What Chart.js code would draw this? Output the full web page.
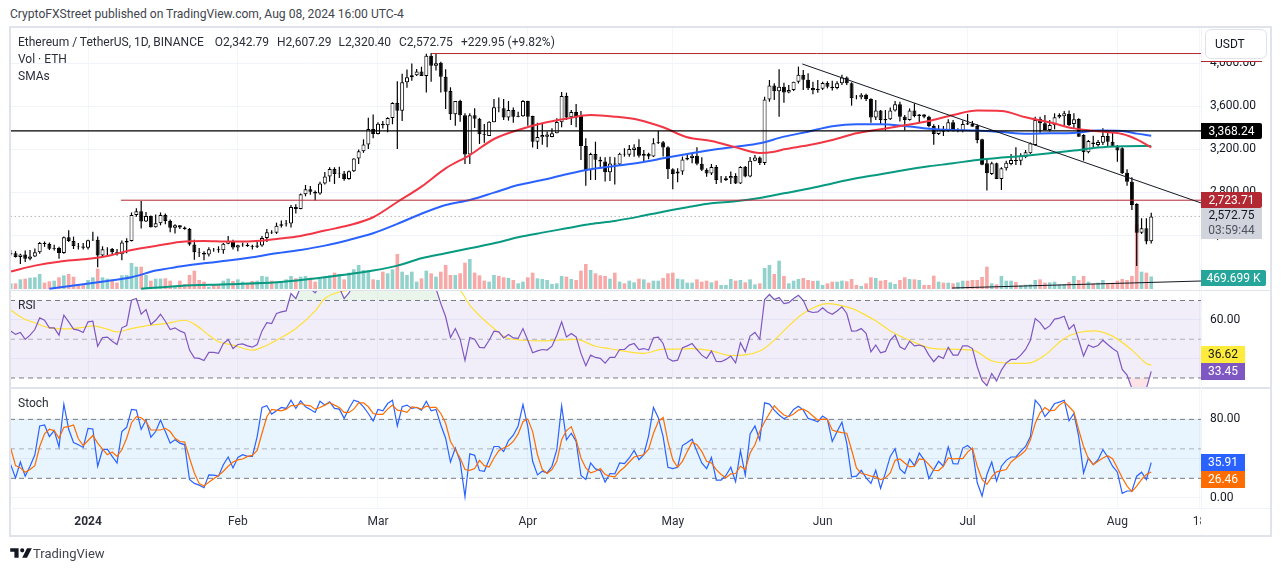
<!DOCTYPE html>
<html>
<head>
<meta charset="utf-8">
<title>ETHUSDT</title>
<script src="https://cdn.jsdelivr.net/npm/chart.js@4/dist/chart.umd.min.js"></script>
<style>
html,body{margin:0;padding:0;background:#fff;overflow:hidden;}
body{width:1281px;height:571px;position:relative;font-family:Roboto,sans-serif;color:#131722;}
canvas{position:absolute;left:10px;}
.abs{position:absolute;white-space:nowrap;}
.line{position:absolute;background:#e0e3eb;}
.tag{position:absolute;left:1201px;width:44px;height:17px;line-height:17px;text-align:center;font-size:12px;}
.leg{position:absolute;left:18px;font-size:12px;white-space:nowrap;color:#2a2e39;}
</style>
</head>
<body>
<canvas id="chartMain" width="1259" height="262" style="top:28px;width:1259px;height:262px"></canvas>
<canvas id="chartRsi" width="1259" height="96" style="top:291px;width:1259px;height:96px"></canvas>
<canvas id="chartStoch" width="1259" height="147" style="top:389px;width:1259px;height:147px"></canvas>

<div class="abs" style="left:10px;top:7px;font-size:12.1px;color:#42454e;">CryptoFXStreet published on TradingView.com, Aug 08, 2024 16:00 UTC-4</div>

<div class="line" style="left:9px;top:26px;width:1263px;height:2px;"></div>
<div class="line" style="left:9px;top:535px;width:1263px;height:2px;"></div>
<div class="line" style="left:9px;top:26px;width:2px;height:511px;"></div>
<div class="line" style="left:1270px;top:26px;width:2px;height:511px;"></div>
<div class="line" style="left:10px;top:290px;width:1261px;height:1px;"></div>
<div class="line" style="left:10px;top:387px;width:1261px;height:2px;"></div>
<div class="line" style="left:1201px;top:28px;width:1px;height:507px;background:#f0f3fa;"></div>
<div class="line" style="left:10px;top:508px;width:1260px;height:1px;background:#f0f3fa;"></div>

<div class="leg" style="top:35px;">Ethereum / TetherUS, 1D, BINANCE<span style="margin-left:11px">O2,342.79</span><span style="margin-left:8px">H2,607.29</span><span style="margin-left:7px">L2,320.40</span><span style="margin-left:8px">C2,572.75</span><span style="margin-left:8px">+229.95 (+9.82%)</span></div>
<div class="leg" style="top:52px;">Vol · ETH</div>
<div class="leg" style="top:69px;">SMAs</div>
<div class="leg" style="top:298px;">RSI</div>
<div class="leg" style="top:396px;">Stoch</div>

<!-- right axis overlays -->
<div class="abs" style="left:1202px;top:28px;width:67px;height:33px;background:#fff;"></div>
<div class="abs" style="left:1201px;top:61px;width:61px;height:1px;background:#b22833;"></div>
<div class="abs" style="left:1205px;top:29px;width:60px;height:28px;border:1px solid #e0e3eb;border-radius:6px;background:#fff;font-size:12px;line-height:28px;text-indent:9px;">USDT</div>
<div class="abs" style="left:1201px;top:123px;width:61px;height:16px;line-height:16px;background:#000;color:#fff;font-size:12px;text-align:center;border-radius:0 2px 2px 0;">3,368.24</div>
<div class="abs" style="left:1201px;top:192px;width:61px;height:16px;line-height:16px;background:#b22833;color:#fff;font-size:12px;text-align:center;border-radius:0 2px 2px 0;">2,723.71</div>
<div class="abs" style="left:1201px;top:208px;width:61px;height:31px;background:#d1d4dc;font-size:12px;text-align:center;line-height:15px;">2,572.75<br><span style="color:#50535e;">03:59:44</span></div>
<div class="abs" style="left:1201px;top:270px;width:65px;height:16px;line-height:16px;background:#26a69a;color:#fff;font-size:12px;text-align:center;border-radius:0 2px 2px 0;">469.699 K</div>
<div class="tag" style="top:346px;background:#ffeb3b;">36.62</div>
<div class="tag" style="top:363px;background:#7e57c2;color:#fff;">33.45</div>
<div class="tag" style="top:454px;background:#2962ff;color:#fff;">35.91</div>
<div class="tag" style="top:471px;background:#ff6d00;color:#fff;">26.46</div>
<div class="abs" style="left:1201px;top:510px;width:68px;height:24px;background:#fff;"></div>

<!-- footer logo -->
<svg class="abs" style="left:10px;top:547px;" width="22" height="12" viewBox="0 0 36 20"><path fill="#131722" d="M14 18H7V8H0V2h14v16zM28 18h-8l8-16h8l-8 16zM20 9a3.5 3.5 0 1 0 0-7 3.5 3.5 0 0 0 0 7z"/></svg>
<div class="abs" style="left:33px;top:546px;font-size:13px;color:#42454e;">TradingView</div>

<script>
// day numbers: 0 = 16 Dec 2023, 236 = 8 Aug 2024
let opens = [
2220,2230,2195,2218,2178,2200,2240,2326,2316,2272,
2280,2232,2378,2345,2298,2292,2281,2352,2355,2210,
2268,2269,2240,2222,2330,2344,2585,2620,2525,2577,
2472,2510,2587,2530,2468,2490,2470,2455,2312,2240,
2235,2218,2268,2267,2258,2318,2345,2283,2305,2310,
2298,2290,2302,2373,2425,2420,2487,2500,2507,2660,
2643,2778,2825,2803,2785,2880,2945,3013,2967,2972,
2922,2992,3112,3178,3243,3385,3340,3435,3422,3488,
3628,3555,3820,3868,3885,3920,3880,4068,3975,4003,
3873,3740,3523,3647,3513,3150,3513,3482,3337,3321,
3448,3590,3578,3492,3563,3501,3505,3647,3507,3268,
3309,3315,3312,3346,3449,3693,3495,3544,3507,3228,
3003,3154,3100,3083,2984,3065,3055,3156,3147,3190,
3219,3138,3155,3130,3255,3263,3216,3011,2973,2990,
3103,3117,3137,3062,3007,2973,3033,2911,2912,2928,
2950,2880,3035,2945,3090,3122,3070,3660,3790,3737,
3780,3725,3748,3825,3890,3844,3767,3747,3760,3814,
3780,3767,3812,3865,3812,3687,3681,3705,3665,3492,
3557,3480,3476,3557,3616,3500,3470,3557,3507,3520,
3500,3414,3340,3383,3365,3450,3375,3370,3439,3432,
3415,3290,3067,2968,3067,2921,3020,3060,3098,3090,
3123,3160,3237,3479,3439,3377,3420,3495,3505,3526,
3433,3479,3330,3169,3261,3237,3259,3321,3268,3228,
3207,2980,2896,2689,2420,2462,2342.79];

let closes = [
2230,2195,2218,2178,2200,2240,2326,2316,2272,2280,
2232,2378,2345,2298,2292,2281,2352,2355,2210,2268,
2269,2240,2222,2330,2344,2585,2620,2525,2577,2472,
2510,2587,2530,2468,2490,2470,2455,2312,2240,2235,
2218,2268,2267,2258,2318,2345,2283,2305,2310,2298,
2290,2302,2373,2425,2420,2487,2500,2507,2660,2643,
2778,2825,2803,2785,2880,2945,3013,2967,2972,2922,
2992,3112,3178,3243,3385,3340,3435,3422,3488,3628,
3555,3820,3868,3885,3920,3880,4067,3975,3997,3873,
3733,3523,3647,3513,3150,3513,3482,3337,3330,3454,
3588,3586,3492,3563,3501,3510,3647,3501,3268,3312,
3331,3334,3346,3451,3693,3492,3544,3492,3228,3003,
3154,3100,3083,2984,3065,3055,3156,3148,3200,3215,
3138,3155,3130,3253,3263,3213,3011,2968,2990,3103,
3117,3137,3062,3007,2973,3033,2911,2912,2928,2950,
2880,3033,2945,3090,3122,3070,3660,3790,3737,3780,
3725,3748,3825,3890,3844,3765,3747,3760,3814,3780,
3767,3812,3865,3812,3672,3681,3705,3665,3492,3557,
3470,3467,3557,3616,3500,3470,3557,3507,3520,3500,
3414,3340,3383,3360,3450,3365,3378,3433,3427,3408,
3284,3053,2974,3067,2921,3020,3073,3098,3088,3138,
3170,3253,3470,3439,3377,3423,3495,3517,3532,3423,
3476,3315,3169,3275,3247,3265,3321,3268,3222,3185,
2974,2896,2680,2420,2462,2339,2572.75];

let highs = [
2260,2250,2225,2255,2260,2275,2335,2340,2330,2310,
2290,2385,2445,2385,2325,2325,2355,2430,2385,2295,
2285,2280,2270,2350,2370,2610,2650,2717,2615,2582,
2590,2610,2600,2545,2500,2490,2480,2465,2355,2280,
2250,2285,2280,2295,2325,2390,2355,2310,2330,2325,
2310,2335,2390,2455,2445,2515,2535,2540,2680,2685,
2785,2865,2855,2815,2895,2985,3030,3030,3035,2995,
3000,3115,3195,3290,3490,3520,3450,3460,3495,3635,
3830,3900,3940,3995,3945,3965,4085,4094,4090,4012,
3941,3774,3647,3658,3532,3532,3578,3490,3433,3458,
3665,3678,3665,3647,3585,3547,3656,3650,3510,3445,
3439,3362,3392,3485,3730,3724,3563,3619,3553,3300,
3166,3268,3129,3123,3129,3123,3166,3207,3238,3244,
3290,3191,3166,3300,3368,3275,3225,3020,3020,3130,
3160,3160,3216,3123,3020,3061,3052,2949,2949,2990,
2974,3040,3042,3125,3145,3130,3687,3842,3811,3941,
3817,3795,3826,3966,3935,3904,3826,3842,3826,3830,
3835,3830,3890,3875,3820,3702,3718,3715,3672,3656,
3563,3563,3585,3647,3640,3516,3578,3625,3526,3526,
3510,3430,3423,3414,3476,3470,3392,3464,3526,3461,
3430,3296,3104,3082,3073,3030,3090,3154,3216,3160,
3190,3260,3500,3501,3516,3470,3532,3532,3554,3557,
3532,3485,3337,3284,3324,3284,3392,3352,3355,3237,
3216,3011,2937,2695,2556,2556,2607.29];

let lows = [
2210,2190,2130,2150,2165,2195,2225,2290,2260,2255,
2180,2225,2335,2270,2265,2265,2265,2345,2100,2200,
2210,2215,2210,2165,2230,2340,2570,2460,2520,2470,
2470,2490,2500,2425,2415,2455,2450,2300,2170,2195,
2165,2200,2245,2235,2225,2315,2265,2250,2290,2290,
2265,2280,2290,2335,2410,2410,2470,2480,2470,2600,
2640,2760,2775,2720,2775,2870,2895,2875,2930,2905,
2915,2985,3060,3165,3200,3300,3335,3390,3355,3430,
3200,3460,3770,3835,3880,3885,3725,3826,3930,3725,
3572,3470,3417,3454,3060,3061,3396,3247,3259,3320,
3448,3541,3470,3464,3445,3495,3500,3417,3213,3200,
3240,3216,3310,3346,3402,3470,3423,3402,3098,2859,
2912,2912,3020,2897,2903,2870,3048,3129,3129,3129,
3120,3082,3104,3125,3247,3130,2921,2825,2890,2960,
3095,3067,3048,2995,2943,2958,2875,2887,2903,2875,
2875,2875,2937,2937,3085,3052,3052,3640,3656,3501,
3631,3718,3740,3810,3750,3750,3709,3724,3749,3764,
3745,3755,3795,3795,3603,3662,3662,3647,3445,3470,
3430,3371,3470,3550,3455,3371,3464,3495,3445,3485,
3402,3240,3330,3321,3360,3362,3355,3355,3423,3408,
3253,3050,2813,2958,2920,2819,3000,3050,3052,3050,
3115,3155,3230,3352,3377,3362,3383,3485,3417,3414,
3392,3315,3092,3160,3200,3222,3238,3222,3222,3082,
2968,2859,2633,2112,2410,2313,2320.40];

// volume in thousands of ETH
let volumes = [
212,212,362,388,425,438,562,238,288,312,
438,512,562,462,188,188,338,438,762,438,
388,338,238,512,525,975,838,838,525,312,
388,388,400,312,112,312,188,525,688,338,
275,88,150,188,312,388,300,362,275,212,
300,312,488,462,312,238,275,362,488,400,
462,488,425,275,388,462,512,612,562,362,
612,738,900,712,712,362,338,650,588,738,
1312,650,525,650,275,400,688,588,462,650,
900,525,525,588,988,1125,612,512,312,275,
525,488,438,412,338,212,275,438,612,400,
375,338,188,212,488,462,375,338,688,938,
712,588,512,488,388,612,275,212,312,250,
388,362,238,312,312,412,588,612,388,362,
238,238,362,275,312,250,312,150,150,375,
312,338,250,362,175,212,788,900,562,1062,
488,212,312,375,412,338,300,312,150,212,
275,275,312,288,375,150,112,212,438,412,
312,338,250,188,338,438,375,362,338,150,
150,500,275,238,238,212,250,312,312,338,
338,450,838,212,175,488,312,312,262,138,
162,175,338,362,238,250,275,175,188,262,
488,338,488,275,212,238,338,212,238,312,
375,338,488,2425,650,612,469.7];

let sma50Days = [0,5,10,15,20,25,30,35,40,45,50,55,60,65,70,75,80,85,90,95,100,105,110,115,120,125,130,135,140,145,150,155,158,160,165,170,175,180,185,190,195,200,205,210,215,220,225,230,233,236];
let sma50 = [2060,2115,2152,2174,2205,2261,2298,2335,2345,2339,2342,2363,2391,2441,2490,2565,2707,2850,3020,3144,3293,3377,3439,3482,3516,3501,3470,3402,3309,3275,3216,3163,3175,3197,3234,3284,3346,3383,3420,3461,3516,3557,3554,3495,3448,3392,3365,3340,3290,3216];

let sma100Days = [8,15,20,25,30,35,40,45,50,55,60,65,70,75,80,85,90,95,100,105,110,115,120,125,130,135,140,145,150,155,160,165,170,175,180,185,190,195,200,205,210,215,220,225,230,233,236];
let sma100 = [1901,1942,1973,2007,2069,2106,2137,2162,2193,2230,2261,2301,2354,2416,2503,2598,2679,2726,2794,2865,2912,2965,3011,3042,3073,3113,3154,3191,3222,3253,3315,3361,3411,3430,3430,3414,3389,3377,3371,3358,3343,3346,3349,3371,3368,3343,3324];

let sma200Days = [27,35,45,55,65,75,80,85,90,95,100,105,110,115,120,125,130,135,140,145,150,155,160,165,170,175,180,185,190,195,200,205,210,215,220,225,230,236];
let sma200 = [1901,1926,1942,1960,2007,2069,2115,2183,2230,2276,2323,2379,2422,2462,2503,2531,2571,2617,2658,2695,2714,2745,2788,2830,2880,2927,2965,3005,3039,3067,3098,3120,3138,3160,3185,3213,3225,3228];

let rsi = [
54.3,52.5,53.5,49.9,52.1,55.0,61.0,59.8,55.9,55.9,
52.1,62.4,59.0,55.2,54.7,53.5,59.0,59.3,46.4,50.9,
51.1,49.0,47.3,55.9,57.1,70.1,71.0,62.9,65.3,57.6,
59.8,62.9,59.3,55.0,55.9,54.3,53.3,44.4,40.4,40.1,
39.0,43.2,43.2,42.7,47.8,49.9,45.2,47.3,47.6,46.6,
45.9,47.3,54.3,58.5,58.1,63.3,64.1,64.6,73.6,71.0,
77.0,78.7,76.2,73.9,77.9,79.6,80.5,77.4,76.7,71.0,
73.9,78.7,80.5,81.3,83.0,81.3,82.2,81.8,82.5,83.9,
80.5,83.9,83.9,84.7,84.7,85.3,83.5,80.5,76.2,68.4,
61.6,50.9,55.5,50.0,39.0,50.9,50.0,45.8,45.6,49.5,
54.2,53.8,50.7,52.5,50.7,50.4,55.5,49.5,43.0,44.0,
44.7,44.4,46.4,52.1,59.0,51.2,53.0,51.2,42.7,36.3,
41.8,40.6,40.1,37.7,40.6,40.6,44.7,44.7,47.0,47.8,
44.7,45.2,44.4,50.7,51.1,47.8,40.1,38.7,39.2,45.6,
46.6,47.8,44.7,41.8,40.1,43.9,38.5,38.4,39.6,41.3,
37.8,48.2,43.5,51.6,53.5,50.0,70.5,73.1,70.5,71.5,
68.4,68.9,71.0,72.7,70.1,64.5,63.8,64.1,66.2,64.1,
62.9,64.6,66.7,63.3,54.2,54.3,55.5,53.0,43.5,47.0,
43.0,43.7,49.5,52.1,46.1,44.7,49.0,46.6,47.0,46.1,
41.8,38.4,41.3,40.1,45.8,41.8,41.8,46.6,46.6,45.2,
35.8,28.6,26.0,32.3,28.4,34.1,37.8,39.6,39.6,41.8,
44.7,49.5,60.7,58.6,55.2,56.9,60.4,60.9,61.9,55.2,
57.6,49.5,41.3,47.0,45.8,46.8,49.5,47.3,45.2,43.5,
34.4,31.5,24.6,19.5,20.3,24.6,33.45];

let rsiMaDays = [0,3,5,8,12,15,17,20,22,25,29,32,36,38,41,43,46,50,52,55,59,63,65,68,70,75,80,86,90,93,95,100,103,110,117,121,124,131,135,138,141,145,149,155,164,169,174,176,179,182,186,191,199,203,208,211,214,218,221,224,228,232,235,236];
let rsiMa = [65.0,60.2,58.5,55.9,55.4,56.1,56.9,55.2,53.8,55.5,57.3,58.1,59.8,57.8,52.1,48.7,47.0,44.4,45.8,49.5,55.5,64.6,71.0,74.4,75.3,79.6,82.5,82.2,78.7,75.3,67.6,55.5,50.4,49.2,49.9,46.4,45.1,42.7,44.9,44.9,45.2,44.0,41.6,43.9,63.3,68.4,65.9,63.6,59.5,54.3,49.5,45.2,44.4,38.9,37.5,37.8,41.8,50.4,53.5,54.3,51.6,44.4,37.5,36.62];

let stochK = [
33.9,20.5,36.6,22.2,32.3,44.0,73.3,74.3,62.5,68.6,
51.8,95.5,69.9,56.5,54.1,51.4,70.9,70.2,32.3,49.1,
49.7,42.3,35.6,67.6,71.9,90.1,89.4,69.9,79.3,61.8,
67.6,79.3,67.6,55.8,59.2,55.8,54.1,18.8,14.8,13.1,
10.4,23.5,23.2,22.2,33.9,41.7,30.6,41.3,44.0,42.3,
42.3,62.5,92.1,93.8,85.4,88.7,92.1,91.1,99.5,91.1,
98.8,92.8,90.1,87.1,98.5,94.5,97.8,91.1,90.4,81.0,
91.1,99.5,97.8,92.8,86.0,78.3,90.1,88.7,96.1,99.5,
73.3,92.8,94.5,91.1,92.1,89.4,98.5,88.7,90.1,74.3,
60.8,36.6,50.8,37.3,1.3,45.0,43.4,27.9,27.2,39.0,
52.4,52.4,47.4,58.5,63.9,73.3,95.1,72.6,37.3,23.5,
27.2,25.5,32.3,49.1,93.8,59.2,65.9,57.5,22.9,18.8,
35.6,29.6,27.9,16.1,24.9,24.5,35.6,35.0,40.7,48.4,
39.0,44.0,63.2,92.1,81.7,62.5,31.3,29.9,31.3,53.4,
56.5,59.8,47.4,35.6,29.9,41.3,18.1,18.1,22.9,31.3,
16.5,48.1,23.2,65.2,73.3,59.2,96.8,95.5,89.4,84.4,
80.7,83.4,90.1,93.4,89.4,81.0,79.3,77.6,83.4,80.0,
57.5,67.6,77.0,55.8,21.5,22.2,28.2,20.5,14.8,28.2,
9.7,25.5,42.3,50.1,29.6,24.9,39.7,32.9,45.7,39.0,
19.8,28.9,37.3,32.3,51.8,35.0,34.6,50.8,53.4,49.1,
15.5,2.0,23.9,36.6,17.1,32.3,38.3,41.7,41.7,47.4,
52.4,62.5,99.5,93.8,82.7,88.7,96.1,97.5,99.5,78.6,
86.0,62.5,25.5,40.7,33.9,39.0,49.1,41.7,32.3,26.2,
4.7,7.1,7.1,22.2,26.2,18.8,35.91];

let stochD = [
50.8,32.9,30.6,26.2,28.9,32.9,52.4,65.2,69.9,68.6,
60.8,71.9,72.6,74.3,60.2,53.4,58.5,63.5,55.8,49.7,
44.0,46.7,42.3,49.1,60.8,76.6,82.7,81.7,77.6,69.2,
69.2,69.2,70.9,67.6,60.8,57.5,56.8,40.7,25.5,14.8,
12.1,16.1,19.5,22.9,27.2,32.3,36.6,38.7,39.7,42.3,
43.4,48.4,65.9,82.7,90.1,89.4,88.7,90.4,94.1,93.8,
96.1,94.5,93.8,90.4,92.1,94.5,97.1,94.5,92.1,87.1,
87.1,90.4,96.8,96.8,92.8,86.0,85.0,85.0,90.4,94.5,
89.4,88.7,87.1,92.8,92.1,90.4,93.4,92.1,92.1,86.0,
76.0,57.5,49.1,40.7,28.9,28.2,29.9,38.3,32.9,31.6,
40.7,48.1,50.8,53.1,57.5,65.2,77.6,80.3,67.6,44.0,
28.9,24.9,28.9,37.3,59.2,68.6,72.6,59.2,40.7,30.6,
25.5,27.2,29.9,23.9,22.2,21.5,27.2,31.3,36.6,41.7,
43.0,44.0,49.7,65.9,77.6,82.0,57.5,39.0,31.3,37.3,
47.4,56.8,54.1,47.4,37.3,35.6,28.9,23.9,20.5,24.5,
24.9,32.3,28.9,45.7,54.1,67.6,77.6,86.0,93.8,88.7,
84.4,82.7,85.4,89.4,90.4,87.7,83.4,79.3,80.3,80.0,
69.2,67.6,66.5,65.9,49.1,30.6,24.9,23.9,22.2,21.5,
18.8,20.5,25.5,38.3,39.7,35.6,31.6,32.3,39.7,39.0,
33.9,28.2,27.9,32.3,40.7,39.7,40.0,40.0,46.7,50.8,
32.3,18.8,13.8,21.5,26.6,27.9,28.9,36.6,40.7,44.0,
48.4,59.2,76.0,86.7,92.1,88.7,89.4,94.5,97.8,92.8,
87.7,69.2,52.4,40.0,33.9,37.3,40.7,43.0,40.0,30.6,
20.5,12.1,6.4,12.1,18.8,23.9,26.46];

let monthDays = [16,47,76,107,137,168,198,229,246];
let monthLabels = ['2024','Feb','Mar','Apr','May','Jun','Jul','Aug','18'];

let priceTicks = [2400,2800,3200,3600,4000];
let rsiTicks = [40,60];
let stochTicks = [0,40,80];

// drawn levels: [day, price]
let topLine = [[87.2,4088],[246.3,4088]];
let resistLine = [[0,3368.24],[246.3,3368.24]];
let supportLine = [[22.8,2723.71],[246.3,2723.71]];
let lastLine = [[0,2572.75],[246.3,2572.75]];
let trendLine = [[163.8,3991],[246.3,2698]];
let volTrendLine = [[194.8,1907],[246.3,1972]];

const X_MIN = -0.145;
const X_MAX = 246.3;
const GRID = '#f0f3fa';

Chart.defaults.font.family = 'Roboto, sans-serif';
Chart.defaults.font.size = 12;
Chart.defaults.color = '#131722';

function pts(list){
    return list.map(p=>({x:p[0],y:p[1]}));
}

function series(days,values){
    return values.map((v,i)=>({x:days[i],y:v}));
}

function daily(values){
    return values.map((v,i)=>({x:i,y:v}));
}

function lineSet(data,color,width,extra){
    return Object.assign({
        type:'line',
        data:data,
        borderColor:color,
        borderWidth:width,
        pointRadius:0,
        fill:false,
        tension:0
    },extra || {});
}

// no room for half labels at the pane edges, the panes must sit exactly
function noPadding(s){
    s.paddingTop = 0;
    s.paddingBottom = 0;
    s.paddingLeft = 0;
    s.paddingRight = 0;
}

function xScale(showLabels){
    return {
        type:'linear',
        position:'bottom',
        min:X_MIN,
        max:X_MAX,
        offset:false,
        border:{display:false},
        grid:{color:'#f5f6fa',drawTicks:false,offset:false},
        afterBuildTicks:s=>{s.ticks = monthDays.map(v=>({value:v}));},
        afterFit:s=>{s.height = showLabels ? 28 : 0;noPadding(s);},
        ticks:{
            display:showLabels,
            autoSkip:false,
            maxRotation:0,
            padding:7,
            color:'#2a2e39',
            callback:v=>monthLabels[monthDays.indexOf(v)],
            font:c=>({size:12,weight:c.tick && c.tick.value==16 ? 'bold':'normal'})
        }
    };
}

function yScale(min,max,tickList,label){
    return {
        type:'linear',
        position:'right',
        min:min,
        max:max,
        border:{display:false},
        grid:{color:GRID,drawTicks:false},
        afterBuildTicks:s=>{s.ticks = tickList.map(v=>({value:v}));},
        afterFit:s=>{s.width = 68;noPadding(s);},
        ticks:{padding:9,autoSkip:false,crossAlign:'near',callback:label}
    };
}

function baseOptions(scales){
    return {
        responsive:false,
        animation:false,
        events:[],
        layout:{padding:0},
        plugins:{legend:{display:false},tooltip:{enabled:false}},
        scales:scales
    };
}

function money(v){
    return v.toLocaleString('en-US',{minimumFractionDigits:2,maximumFractionDigits:2});
}

// main pane, candles + volume + moving averages
let volColors = closes.map((c,i)=>c>=opens[i] ? 'rgba(38,166,154,0.5)':'rgba(239,83,80,0.5)');
let bodyColors = closes.map((c,i)=>c>=opens[i] ? '#ffffff':'#000000');

new Chart(document.getElementById('chartMain'),{
    type:'line',
    data:{datasets:[
        {type:'bar',yAxisID:'yVol',grouped:false,order:20,barThickness:3.6,inflateAmount:0,backgroundColor:volColors,borderWidth:0,
            data:volumes.map((v,i)=>({x:i,y:v}))},
        lineSet(pts(lastLine),'#9598a1',1,{order:15,borderDash:[1,3]}),
        {type:'bar',grouped:false,order:12,barThickness:1.2,inflateAmount:0,backgroundColor:'#000000',borderWidth:0,
            data:highs.map((h,i)=>({x:i,y:[lows[i],h]}))},
        {type:'bar',grouped:false,order:11,barThickness:4,inflateAmount:0,backgroundColor:bodyColors,borderColor:'#000000',borderWidth:1,borderSkipped:false,
            data:opens.map((o,i)=>({x:i,y:[Math.min(o,closes[i]),Math.max(o,closes[i])]}))},
        lineSet(series(sma200Days,sma200),'#089981',2,{order:6,cubicInterpolationMode:'monotone'}),
        lineSet(series(sma100Days,sma100),'#2962ff',2,{order:5,cubicInterpolationMode:'monotone'}),
        lineSet(series(sma50Days,sma50),'#f23645',2,{order:4,cubicInterpolationMode:'monotone'}),
        lineSet(pts(topLine),'#b22833',1,{order:3}),
        lineSet(pts(supportLine),'#b22833',1,{order:3}),
        lineSet(pts(resistLine),'#000000',1.2,{order:2}),
        lineSet(pts(trendLine),'#131722',1,{order:2}),
        lineSet(pts(volTrendLine),'#131722',1,{order:2})
    ]},
    options:baseOptions({
        x:xScale(false),
        y:yScale(1888.4,4325.6,priceTicks,money),
        yVol:{type:'linear',display:false,min:-37.5,max:9787.5}
    })
});

// RSI pane
let rsiBandEnds = [[X_MIN,70],[X_MAX,70]];
new Chart(document.getElementById('chartRsi'),{
    type:'line',
    data:{datasets:[
        lineSet(pts(rsiBandEnds),'rgba(0,0,0,0)',0,{order:9,fill:{target:{value:30}},backgroundColor:'rgba(126,87,194,0.1)'}),
        lineSet(daily(rsi),'rgba(0,0,0,0)',0,{order:8,fill:{target:{value:70},above:'rgba(76,175,80,0.12)',below:'rgba(0,0,0,0)'}}),
        lineSet(daily(rsi),'rgba(0,0,0,0)',0,{order:8,fill:{target:{value:30},above:'rgba(0,0,0,0)',below:'rgba(242,54,69,0.14)'}}),
        lineSet(pts([[X_MIN,70],[X_MAX,70]]),'#787b86',1,{order:7,borderDash:[5,4]}),
        lineSet(pts([[X_MIN,50],[X_MAX,50]]),'rgba(120,123,134,0.55)',1,{order:7,borderDash:[5,4]}),
        lineSet(pts([[X_MIN,30],[X_MAX,30]]),'#787b86',1,{order:7,borderDash:[5,4]}),
        lineSet(series(rsiMaDays,rsiMa),'#ffe135',1.2,{order:3,cubicInterpolationMode:'monotone'}),
        lineSet(daily(rsi),'#7e57c2',1.2,{order:2})
    ]},
    options:baseOptions({
        x:xScale(false),
        y:yScale(25.35,74.9,rsiTicks,v=>v==60 ? '60.00':'')
    })
});

// stochastic pane with the time axis
let stochBandEnds = [[X_MIN,80],[X_MAX,80]];
new Chart(document.getElementById('chartStoch'),{
    type:'line',
    data:{datasets:[
        lineSet(pts(stochBandEnds),'rgba(0,0,0,0)',0,{order:9,fill:{target:{value:20}},backgroundColor:'rgba(33,150,243,0.1)'}),
        lineSet(pts([[X_MIN,80],[X_MAX,80]]),'#787b86',1,{order:7,borderDash:[5,4]}),
        lineSet(pts([[X_MIN,50],[X_MAX,50]]),'rgba(120,123,134,0.55)',1,{order:7,borderDash:[5,4]}),
        lineSet(pts([[X_MIN,20],[X_MAX,20]]),'#787b86',1,{order:7,borderDash:[5,4]}),
        lineSet(daily(stochK),'#2962ff',1.2,{order:3}),
        lineSet(daily(stochD),'#ff6d00',1.2,{order:2})
    ]},
    options:baseOptions({
        x:xScale(true),
        y:yScale(-10.2,110.9,stochTicks,v=>v==40 ? '':v.toFixed(2))
    })
});
</script>
</body>
</html>
